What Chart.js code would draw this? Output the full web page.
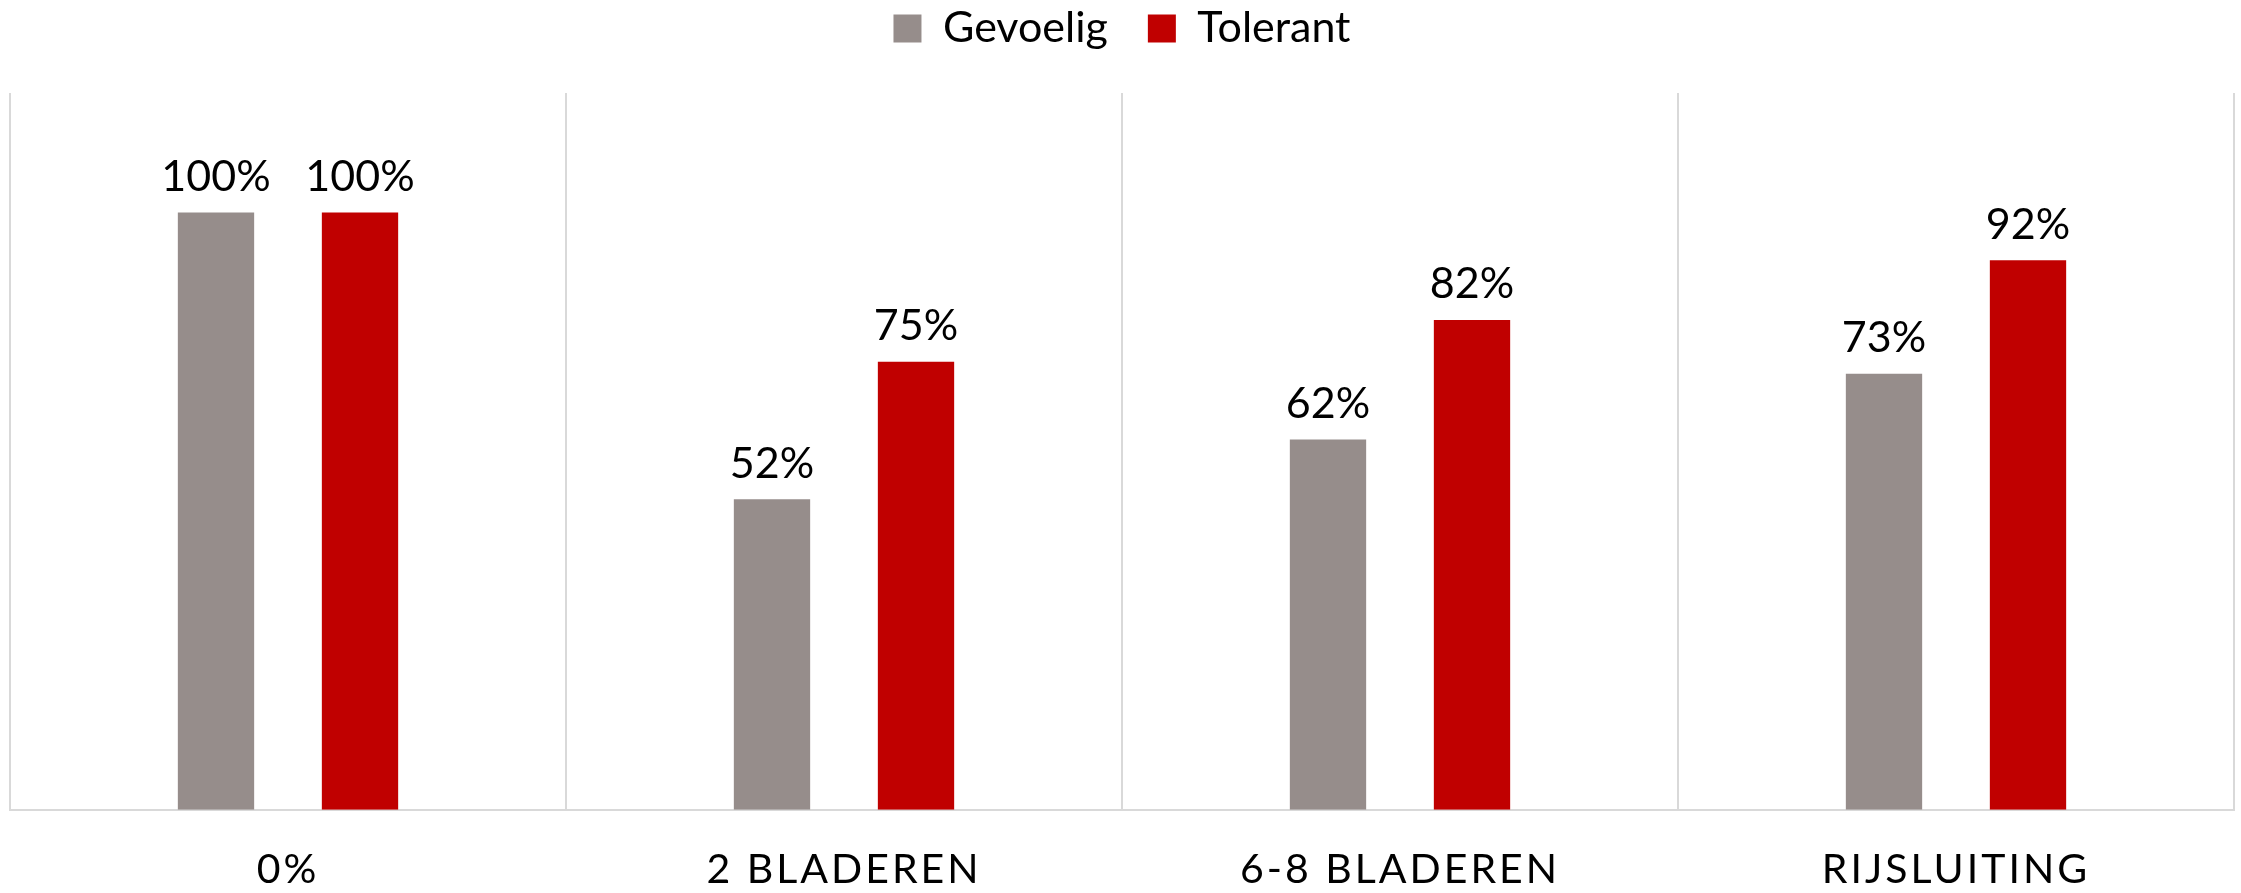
<!DOCTYPE html>
<html>
<head>
<meta charset="utf-8">
<script src="https://cdn.jsdelivr.net/npm/chart.js@4.4.1/dist/chart.umd.min.js"></script>
<style>
    html, body { margin: 0; padding: 0; background: #ffffff; overflow: hidden; }
</style>
</head>
<body>
<canvas id="BarChartStages" width="2241" height="893"></canvas>
<script>
const stages = ['0%', '2 BLADEREN', '6-8 BLADEREN', 'RIJSLUITING'];
const gevoelig = [100, 52, 62, 73];
const tolerant = [100, 75, 82, 92];

const fontFamily = 'Lato, "Noto Sans", sans-serif';

// Draw the percentage labels above the bars, then widen letters for the x tick labels
const barLabels = {
    id: 'barLabels',
    afterDatasetsDraw(chart) {
        const ctx = chart.ctx;
        ctx.save();
        ctx.font = '43px ' + fontFamily;
        ctx.fillStyle = '#000000';
        ctx.textAlign = 'center';
        ctx.textBaseline = 'bottom';
        chart.data.datasets.forEach((ds, i) => {
            chart.getDatasetMeta(i).data.forEach((bar, j) => {
                ctx.fillText(ds.data[j] + '%', bar.x, bar.y - 14);
            });
        });
        ctx.restore();
        ctx.letterSpacing = '3px';
    },
    afterDraw(chart) {
        chart.ctx.letterSpacing = '0px';
    }
};

// Extra room between the legend and the plot
const legendGap = {
    id: 'legendGap',
    beforeInit(chart) {
        const origFit = chart.legend.fit;
        chart.legend.fit = function() {
            origFit.call(this);
            this.height += 33;
        };
    }
};

const ctx = document.getElementById('BarChartStages').getContext('2d');
new Chart(ctx, {
    type: 'bar',
    data: {
        labels: stages,
        datasets: [{
            label: 'Gevoelig',
            data: gevoelig,
            backgroundColor: '#968D8B',
            borderWidth: 0
        }, {
            label: 'Tolerant',
            data: tolerant,
            backgroundColor: '#C00000',
            borderWidth: 0
        }]
    },
    plugins: [legendGap, barLabels],
    options: {
        responsive: false,
        animation: false,
        devicePixelRatio: 1,
        categoryPercentage: 0.518,
        barPercentage: 0.53,
        layout: {
            padding: { left: 10, right: 7, top: -33, bottom: -36 }
        },
        plugins: {
            legend: {
                position: 'top',
                labels: {
                    color: '#000000',
                    font: { family: fontFamily, size: 43 },
                    boxWidth: 28,
                    boxHeight: 28,
                    padding: 40
                }
            },
            tooltip: { enabled: false }
        },
        scales: {
            x: {
                grid: {
                    display: true,
                    offset: true,
                    color: '#D9D9D9',
                    lineWidth: 2,
                    drawTicks: false
                },
                border: { display: true, color: '#D9D9D9', width: 2 },
                ticks: {
                    z: 1,
                    color: '#000000',
                    padding: 35,
                    font: { family: fontFamily, size: 41 }
                }
            },
            y: {
                display: false,
                min: 0,
                max: 120
            }
        }
    }
});
</script>
</body>
</html>
